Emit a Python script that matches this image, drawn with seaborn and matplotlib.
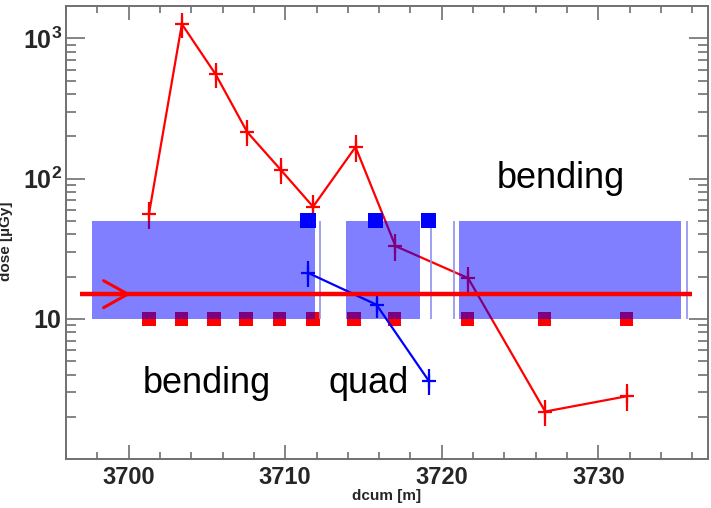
import seaborn as sns
import numpy as np
import matplotlib.pyplot as plt
from matplotlib.ticker import FixedLocator, LogLocator, NullFormatter, FixedFormatter, MultipleLocator

# curva roja: dosis medida a lo largo de la linea
dcum_rojo = [3701.3, 3703.4, 3705.55, 3707.57, 3709.7, 3711.78, 3714.49, 3717.04, 3721.68, 3726.6, 3731.8]
dosis_rojo = [56, 1265, 556, 215, 116, 63, 168, 33, 19.5, 2.18, 2.8]
error_rojo = [12, 260, 115, 45, 25, 13, 36, 7, 4, 0.45, 0.6]

# curva azul
dcum_azul = [3711.44, 3715.83, 3719.16]
dosis_azul = [21.3, 12.6, 3.62]
error_azul = [4.5, 2.5, 0.77]

# imanes (inicio, fin) y lineas finas
imanes_inicio = [3697.68, 3713.85, 3721.08]
imanes_fin = [3711.93, 3718.63, 3735.29]
imanes_abajo, imanes_arriba = 10, 50
lineas_finas = [3712.2, 3719.3, 3720.76, 3735.65]

# marcadores cuadrados
cuadros_azules = [3711.45, 3715.76, 3719.16]
cuadros_rojos = [3701.3, 3703.38, 3705.44, 3707.5, 3709.65, 3711.78, 3714.4, 3716.97, 3721.65, 3726.57, 3731.8]

# haz
haz_y = 15
haz_x = [3696.9, 3736.0]
flecha_x = [3698.4, 3699.95, 3698.4]
flecha_y = [18.7, 15, 12.0]

etiquetas = [("bending", 3705.0, 3.45), ("quad", 3715.3, 3.45), ("bending", 3727.6, 100)]

sns.set_style("ticks")
plt.rcParams['font.family'] = ['Liberation Sans', 'DejaVu Sans']
plt.rcParams['mathtext.fontset'] = 'custom'
plt.rcParams['mathtext.bf'] = 'Liberation Sans:bold'
plt.rcParams['mathtext.rm'] = 'Liberation Sans:bold'

fig = plt.figure(figsize=(7.11, 5.08), dpi=100)
ax = fig.add_axes([0.0928, 0.0965, 0.903, 0.8915])
ax.set_yscale('log')

rojo = '#ff0000'
azul = '#0000ff'

# cuadrados rojos por debajo de todo
sns.scatterplot(x=cuadros_rojos, y=[10] * len(cuadros_rojos), marker='s', s=95,
                color=rojo, edgecolor='none', linewidth=0, ax=ax, zorder=1)

# curva roja por debajo de los imanes
sns.lineplot(x=dcum_rojo, y=dosis_rojo, color=rojo, lw=1.6, marker='+', markersize=10,
             mew=1.6, markeredgecolor=rojo, ax=ax, zorder=2)
ax.errorbar(dcum_rojo, dosis_rojo, yerr=error_rojo, fmt='none', ecolor=rojo, elinewidth=1.6,
            capsize=0, zorder=2)

# imanes semitransparentes
for x0, x1 in zip(imanes_inicio, imanes_fin):
    ax.fill_between([x0, x1], imanes_abajo, imanes_arriba, color=azul, alpha=0.5, lw=0, zorder=3)
ax.vlines(lineas_finas, imanes_abajo, imanes_arriba, color='#9090f0', lw=1.2, zorder=3)

# curva azul
sns.lineplot(x=dcum_azul, y=dosis_azul, color=azul, lw=1.6, marker='+', markersize=10,
             mew=1.6, markeredgecolor=azul, ax=ax, zorder=4)
ax.errorbar(dcum_azul, dosis_azul, yerr=error_azul, fmt='none', ecolor=azul, elinewidth=1.6,
            capsize=0, zorder=4)

# cuadrados azules
sns.scatterplot(x=cuadros_azules, y=[50] * len(cuadros_azules), marker='s', s=120,
                color=azul, edgecolor='none', linewidth=0, ax=ax, zorder=5)

# haz con flecha
ax.hlines(haz_y, haz_x[0], haz_x[1], color=rojo, lw=3.2, zorder=6)
ax.plot(flecha_x, flecha_y, color=rojo, lw=2.2, zorder=6)

for texto, x, y in etiquetas:
    ax.text(x, y, texto, fontsize=26, ha='center', va='center', color='black', zorder=7)

ax.set_xlim(3696.0, 3737.0)
ax.set_ylim(1, 1700)

ax.xaxis.set_major_locator(MultipleLocator(10))
ax.xaxis.set_minor_locator(MultipleLocator(2))
ax.yaxis.set_major_locator(FixedLocator([10, 100, 1000]))
ax.yaxis.set_major_formatter(FixedFormatter([r'$\mathbf{10}$', r'$\mathbf{10^2}$', r'$\mathbf{10^3}$']))
ax.yaxis.set_minor_locator(LogLocator(base=10, subs=np.arange(2, 10)))
ax.yaxis.set_minor_formatter(NullFormatter())

ax.tick_params(axis='x', which='major', direction='in', length=10, width=1.2, color='#707070',
               labelsize=17, top=True, pad=5)
ax.tick_params(axis='x', which='minor', direction='in', length=5, width=1.2, color='#707070', top=True)
ax.tick_params(axis='y', which='major', direction='in', length=14, width=1.2, color='#707070',
               labelsize=18, right=True, pad=3)
ax.tick_params(axis='y', which='minor', direction='in', length=7, width=1.2, color='#707070', right=True)
for lab in ax.get_xticklabels():
    lab.set_fontweight('bold')

for s in ax.spines.values():
    s.set_color('#707070')
    s.set_linewidth(1.4)

ax.set_xlabel('dcum [m]', fontsize=11, fontweight='bold')
ax.xaxis.set_label_coords(0.5, -0.066)
ax.set_ylabel('dose [µGy]', fontsize=11, fontweight='bold')
ax.yaxis.set_label_coords(-0.082, 0.48)

fig.savefig('out.png', dpi=100)
